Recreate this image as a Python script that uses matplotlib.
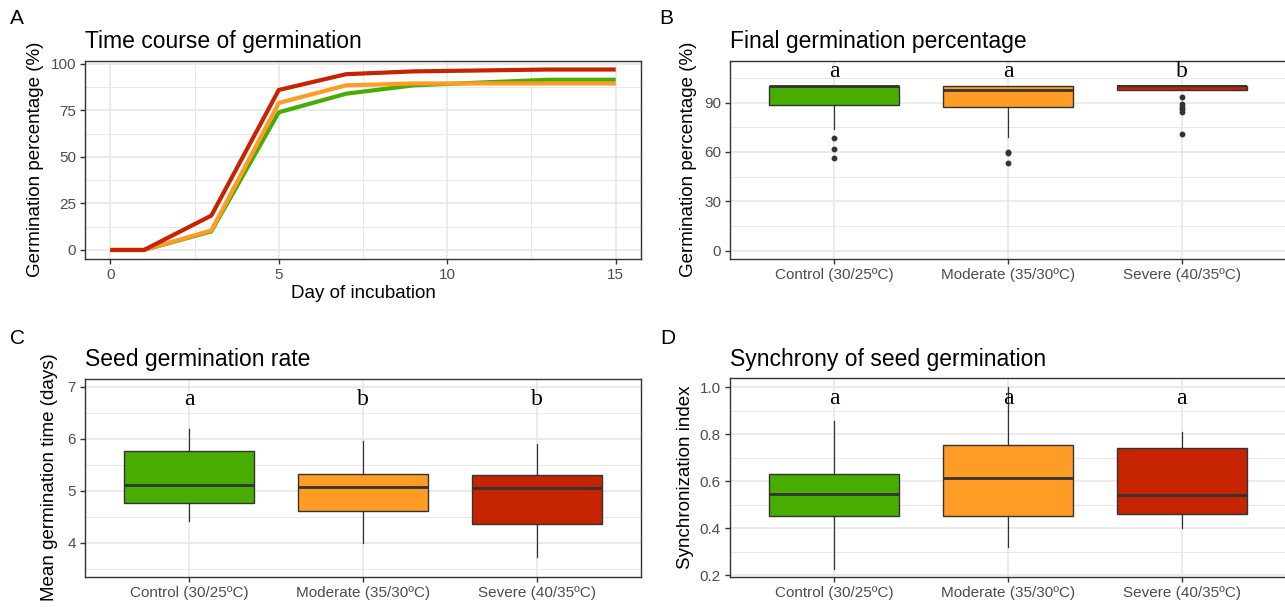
import matplotlib
matplotlib.use("Agg")
import matplotlib.pyplot as plt
from matplotlib.ticker import MultipleLocator

plt.rcParams['font.family'] = ['Liberation Sans', 'DejaVu Sans']

# ---------------- data ----------------
treatments = ["Control (30/25ºC)", "Moderate (35/30ºC)", "Severe (40/35ºC)"]
colors = ["#48AD00", "#FF9C26", "#C62400"]

days = [0, 1, 3, 5, 7, 9, 11, 13, 15]
germ_control = [0, 0, 10, 74, 84, 88.5, 90, 91.5, 91.5]
germ_moderate = [0, 0, 10.5, 79, 88.5, 89.5, 89.5, 89.5, 89.5]
germ_severe = [0, 0, 18.5, 86, 94.5, 96, 96.5, 97, 97]

# box stats: (lower whisker, Q1, median, Q3, upper whisker, outliers)
fgp_stats = [
    (74, 88.5, 100, 100, 100, [68.5, 62, 56.5]),
    (69, 87, 97.5, 100, 100, [60, 59.3, 53.5]),
    (97.4, 97.4, 100, 100, 100, [93.5, 89, 87.5, 86, 84.5, 71]),
]
fgp_letters = ["a", "a", "b"]

mgt_stats = [
    (4.42, 4.76, 5.12, 5.77, 6.19, []),
    (4.0, 4.61, 5.07, 5.33, 5.95, []),
    (3.72, 4.36, 5.05, 5.31, 5.90, []),
]
mgt_letters = ["a", "b", "b"]

syn_stats = [
    (0.225, 0.452, 0.546, 0.632, 0.855, []),
    (0.32, 0.450, 0.614, 0.752, 1.0, []),
    (0.40, 0.462, 0.541, 0.741, 0.81, []),
]
syn_letters = ["a", "a", "a"]

# ---------------- layout ----------------
W, H = 1285, 607
fig = plt.figure(figsize=(W / 100, H / 100), dpi=100)


def add_ax(l, t, r, b):
    return fig.add_axes([l / W, 1 - b / H, (r - l) / W, (b - t) / H])


GRID = "#E8E8E8"
DARK = "#333333"
TICKC = "#4D4D4D"


def style(ax):
    for s in ax.spines.values():
        s.set_color(DARK)
        s.set_linewidth(1.0)
    ax.tick_params(axis="both", colors=DARK, labelcolor=TICKC, length=3.5,
                   width=1.0, labelsize=11, pad=3)
    ax.grid(True, which="major", color=GRID, linewidth=1.2)
    ax.grid(True, which="minor", color=GRID, linewidth=0.7)
    ax.tick_params(which="minor", length=0)
    ax.set_axisbelow(True)


def boxes(ax, stats, letters, ypos):
    bx = []
    for (lo, q1, med, q3, hi, fl), lab in zip(stats, treatments):
        bx.append(dict(whislo=lo, q1=q1, med=med, q3=q3, whishi=hi, fliers=fl, label=lab))
    res = ax.bxp(bx, positions=[1, 2, 3], widths=0.75, patch_artist=True,
                 showcaps=False,
                 boxprops=dict(edgecolor=DARK, linewidth=1.0),
                 medianprops=dict(color=DARK, linewidth=2.0),
                 whiskerprops=dict(color=DARK, linewidth=0.9),
                 flierprops=dict(marker="o", markersize=3.2, markerfacecolor=DARK,
                                 markeredgecolor=DARK, linestyle="none"))
    for p, c in zip(res["boxes"], colors):
        p.set_facecolor(c)
    for i, l in enumerate(letters):
        ax.text(i + 1, ypos, l, ha="center", va="baseline", fontsize=17,
                family=["Liberation Serif", "DejaVu Serif"], color="black")
    ax.set_xlim(0.4, 3.6)
    ax.set_xticks([1, 2, 3])
    ax.set_xticklabels(treatments)
    ax.xaxis.grid(True, which="major", color=GRID, linewidth=1.2)
    return res


# ---------- Panel A ----------
axA = add_ax(85, 60.5, 641, 259)
style(axA)
axA.plot(days, germ_control, color=colors[0], linewidth=3.0, solid_capstyle="butt")
axA.plot(days, germ_moderate, color=colors[1], linewidth=3.0, solid_capstyle="butt")
axA.plot(days, germ_severe, color=colors[2], linewidth=3.0, solid_capstyle="butt")
axA.set_xlim(-0.75, 15.75)
axA.set_ylim(-4.85, 101.85)
axA.set_xticks([0, 5, 10, 15])
axA.set_yticks([0, 25, 50, 75, 100])
axA.xaxis.set_minor_locator(MultipleLocator(2.5))
axA.yaxis.set_minor_locator(MultipleLocator(12.5))
axA.set_xlabel("Day of incubation", fontsize=13.5, labelpad=2)
axA.set_ylabel("Germination percentage (%)", fontsize=13.5, labelpad=5)
axA.set_title("Time course of germination", fontsize=16.5, loc="left", pad=9)

# ---------- Panel B ----------
axB = add_ax(730, 60.5, 1286, 259)
style(axB)
resB = boxes(axB, fgp_stats, fgp_letters, 105.5)
resB["medians"][2].set_linewidth(1.4)
axB.set_ylim(-5, 115.5)
axB.set_yticks([0, 30, 60, 90])
axB.yaxis.set_minor_locator(MultipleLocator(15))
axB.set_ylabel("Germination percentage (%)", fontsize=13.5, labelpad=5)
axB.set_title("Final germination percentage", fontsize=16.5, loc="left", pad=9)

# ---------- Panel C ----------
axC = add_ax(85, 378.5, 641, 576.7)
style(axC)
boxes(axC, mgt_stats, mgt_letters, 6.66)
axC.set_ylim(3.35, 7.16)
axC.set_yticks([4, 5, 6, 7])
axC.yaxis.set_minor_locator(MultipleLocator(0.5))
axC.set_ylabel("Mean germination time (days)", fontsize=13.5, labelpad=7)
axC.set_title("Seed germination rate", fontsize=16.5, loc="left", pad=9)

# ---------- Panel D ----------
axD = add_ax(730, 378.3, 1286, 576.7)
style(axD)
boxes(axD, syn_stats, syn_letters, 0.93)
axD.set_ylim(0.193, 1.038)
axD.set_yticks([0.2, 0.4, 0.6, 0.8, 1.0])
axD.set_yticklabels(["0.2", "0.4", "0.6", "0.8", "1.0"])
axD.yaxis.set_minor_locator(MultipleLocator(0.1))
axD.set_ylabel("Synchronization index", fontsize=13.5, labelpad=4)
axD.set_title("Synchrony of seed germination", fontsize=16.5, loc="left", pad=9)

# panel letters
for lab, x, y in [("A", 10, 19), ("B", 659, 19), ("C", 10, 338), ("D", 660, 338)]:
    fig.text(x / W, 1 - y / H, lab, fontsize=15, ha="left", va="center")

fig.savefig("out.png", dpi=100, facecolor="white")
